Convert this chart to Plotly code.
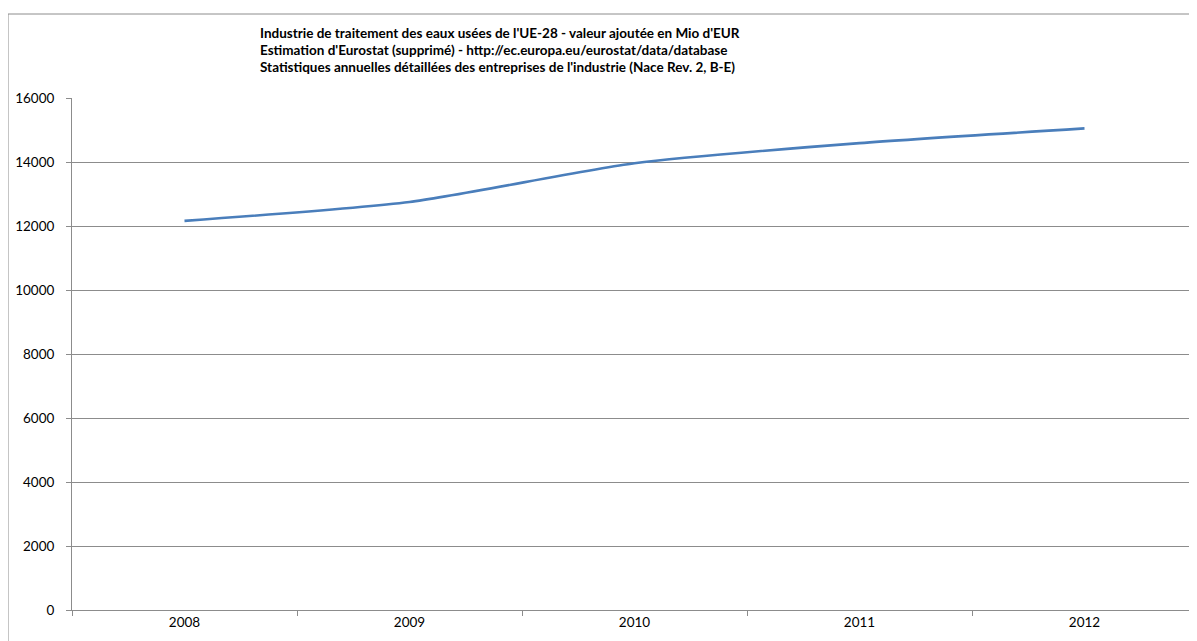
import plotly.graph_objects as go

years = ["2008", "2009", "2010", "2011", "2012"]
valeur_ajoutee = [12160, 12750, 13960, 14590, 15050]
title_lines = [
    "Industrie de traitement des eaux usées de l'UE-28 - valeur ajoutée en Mio d'EUR",
    "Estimation d'Eurostat (supprimé) - http://ec.europa.eu/eurostat/data/database",
    "Statistiques annuelles détaillées des entreprises de l'industrie (Nace Rev. 2, B-E)",
]

# page body adds an 8px offset; work in screen pixels and convert
OFF = 8
W, H = 1197 - OFF, 641 - OFF
L, R, T, B = 72 - OFF, 0, 98 - OFF, 31
pw, ph = W - L - R, H - T - B

def px_x(x):
    return (x - OFF - L) / pw

def px_y(y):
    return (H - B - (y - OFF)) / ph

fig = go.Figure()
fig.add_trace(go.Scatter(
    x=years, y=valeur_ajoutee, mode="lines",
    line=dict(color="#4A7EBB", width=2.6, shape="spline", smoothing=0.6),
    hoverinfo="x+y", showlegend=False,
))

grid = "#8c8c8c"
FONT = "Lato, Liberation Sans, sans-serif"
fig.update_layout(
    width=W, height=H,
    margin=dict(l=L, r=R, t=T, b=B),
    paper_bgcolor="white", plot_bgcolor="white",
    font=dict(family=FONT, size=13.5, color="#000000"),
    xaxis=dict(
        type="category", range=[-0.5, 4.5], showgrid=False,
        showline=True, linecolor=grid, linewidth=1,
        ticks="outside", tickson="boundaries", ticklen=5, tickcolor=grid,
        tickfont=dict(size=13.5, color="#000000"),
    ),
    yaxis=dict(
        range=[0, 16000], dtick=2000, tickformat="d",
        showgrid=True, gridcolor=grid, gridwidth=1,
        showline=True, linecolor=grid, linewidth=1, zeroline=False,
        ticks="outside", ticklen=5, tickcolor=grid,
        tickfont=dict(size=13.5, color="#000000"), ticklabelstandoff=9,
    ),
)

for txt, py in zip(title_lines, [33, 50, 67]):
    fig.add_annotation(
        text="<b>" + txt + "</b>", xref="paper", yref="paper",
        x=px_x(258), y=px_y(py), xanchor="left", yanchor="middle",
        showarrow=False, align="left",
        font=dict(size=13.5, color="#000000", family=FONT),
    )

fig.add_shape(
    type="rect", xref="paper", yref="paper",
    x0=px_x(8), x1=px_x(1260), y0=px_y(700), y1=px_y(14),
    line=dict(color="#8c8c8c", width=1), fillcolor="rgba(0,0,0,0)", layer="below",
)

fig.write_html("out.html")
